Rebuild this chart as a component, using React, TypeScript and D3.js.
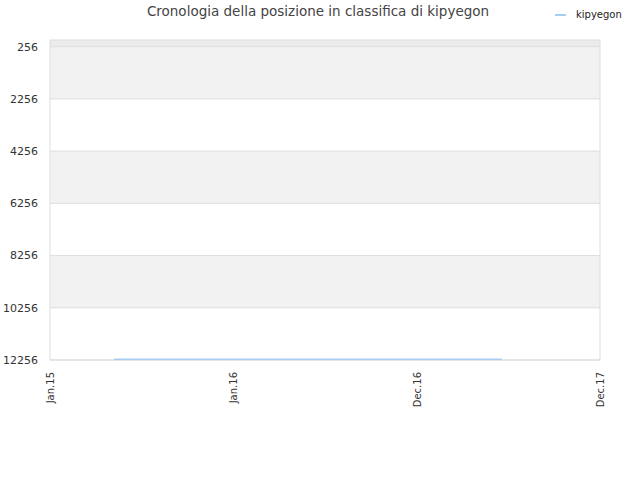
import React from "react";
import * as d3 from "d3";

const title = "Cronologia della posizione in classifica di kipyegon";
const seriesName = "kipyegon";
const dates = ["2015-05-05", "2016-05-15", "2017-05-25"];
const ranks = [12230, 12230, 12230];
const yTicks = [256, 2256, 4256, 6256, 8256, 10256, 12256];
const xTickLabels = ["Jan.15", "Jan.16", "Dec.16", "Dec.17"];

const W = 640, H = 480;
const L = 50, R = 600, T = 40, B = 360;

export default function App() {
  const parse = d3.timeParse("%Y-%m-%d");
  const start = parse("2015-01-01")!;
  const end = parse("2017-12-01")!;
  const x = d3.scaleTime().domain([start, end]).range([L, R]);
  const y = d3.scaleLinear().domain([0, 12256]).range([T, B]);
  const xTickDates = xTickLabels.map((_, i) =>
    new Date(start.getTime() + (i / (xTickLabels.length - 1)) * (end.getTime() - start.getTime()))
  );
  const pts = dates.map((d, i) => [x(parse(d)!), y(ranks[i])] as [number, number]);
  const line = d3.line()(pts) || "";
  const bands: [number, number, string][] = [[0, 256, "#ebebeb"]];
  for (let i = 0; i < yTicks.length - 1; i++) {
    bands.push([yTicks[i], yTicks[i + 1], i % 2 === 0 ? "#f2f2f2" : "#ffffff"]);
  }
  const font = "DejaVu Sans, sans-serif";
  return (
    <svg width={W} height={H} style={{ position: "absolute", left: 0, top: 0 }} fontFamily={font}>
      <rect x={0} y={0} width={W} height={H} fill="#fff" />
      {bands.map(([a, b, c], i) => (
        <rect key={i} x={L} y={y(a)} width={R - L} height={y(b) - y(a)} fill={c} />
      ))}
      {yTicks.map((t) => (
        <line key={t} x1={L} x2={R} y1={y(t)} y2={y(t)} stroke="#dddddd" strokeWidth={1} />
      ))}
      <rect x={L} y={T} width={R - L} height={B - T} fill="none" stroke="#dddddd" strokeWidth={1} />
      {yTicks.map((t) => (
        <text key={t} x={L - 12} y={y(t)} dy="0.35em" textAnchor="end" fontSize={11} fill="#333">
          {t}
        </text>
      ))}
      {xTickDates.map((d, i) => (
        <text
          key={i}
          transform={`translate(${x(d) + 4},${B + 12}) rotate(-90)`}
          textAnchor="end"
          fontSize={10}
          fill="#333"
        >
          {xTickLabels[i]}
        </text>
      ))}
      <path d={line} fill="none" stroke="#a8cdf0" strokeWidth={1.5} />
      <text x={318} y={16} textAnchor="middle" fontSize={13.5} fill="#444">
        {title}
      </text>
      <line x1={555} x2={566} y1={15} y2={15} stroke="#a8cdf0" strokeWidth={2} />
      <text x={576} y={18} fontSize={10} fill="#222">
        {seriesName}
      </text>
    </svg>
  );
}
